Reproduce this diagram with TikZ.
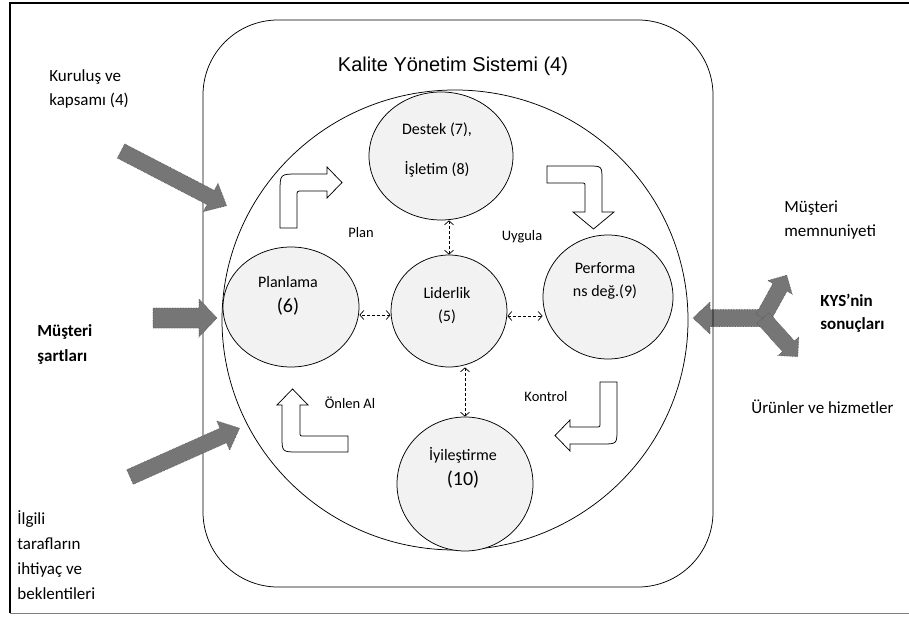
\documentclass[tikz,border=0pt]{standalone}
\usepackage{fontspec}
\setmainfont{Carlito}
\newfontfamily\arialfont{Liberation Sans}
\usetikzlibrary{arrows.meta,shapes.geometric}

\tikzset{every picture/.style={line width=0.75pt}}
\tikzset{
  bubble/.style={ellipse, draw, fill={rgb,255:red,242;green,242;blue,242}, inner sep=0pt},
  bubtext/.style={align=center, inner sep=0pt, font=\fontsize{16}{23}\selectfont},
  sidetext/.style={align=left, anchor=west, inner sep=0pt, font=\fontsize{17}{24}\selectfont},
  looptext/.style={inner sep=0pt, font=\fontsize{14.5}{16}\selectfont},
  hollow/.style={draw, fill=white},
  grayarrow/.style={fill={rgb,255:red,118;green,118;blue,118}, draw={rgb,255:red,85;green,85;blue,85}, densely dotted, line width=0.6pt},
  linkarrow/.style={densely dashed, {Straight Barb[length=4pt,width=9pt]}-{Straight Barb[length=4pt,width=9pt]}, line width=0.7pt}
}
\newcommand{\fatarrow}[6]{%
  \begin{scope}[shift={#1}, rotate=#2]
    \draw[grayarrow] (0,-#4) -- ({#3-#6},-#4) -- ({#3-#6},-#5) -- (#3,0) -- ({#3-#6},#5) -- ({#3-#6},#4) -- (0,#4) -- cycle;
  \end{scope}}

\begin{document}
\begin{tikzpicture}[x=1pt,y=-1pt]
    \useasboundingbox (0,0) rectangle (909,617);
    \draw[line width=1.2pt] (909,3) -- (10,3) -- (10,613);
    \draw[gray, line width=1pt] (10,613) -- (909,613);

    % results on the right
    \fatarrow{(763,318)}{180}{70}{8.5}{16}{17}
    \draw[rounded corners=75pt] (203,20) rectangle (713,587);
    \draw (455,320) ellipse [x radius=233pt, y radius=230pt];
    \node[font=\arialfont\fontsize{20}{22}\selectfont] (kys title) at (453,66) {Kalite Yönetim Sistemi (4)};

    \node[bubble, minimum width=144pt, minimum height=128pt] (destek) at (441,156) {};
    \node[bubble, minimum width=136pt, minimum height=120pt] (plan) at (291,307) {};
    \node[bubble, minimum width=116pt, minimum height=112pt] (lider) at (449,311) {};
    \node[bubble, minimum width=130pt, minimum height=124pt] (perf) at (608,297) {};
    \node[bubble, minimum width=136pt, minimum height=134pt] (iyi) at (465,484) {};

    \node[bubtext] (destek text) at (437,150) {Destek (7),\\[17pt]İşletim (8)};
    \node[bubtext] (plan text) at (288,296) {Planlama\\[2pt]{\fontsize{20}{20}\selectfont(6)}};
    \node[bubtext] (lider text) at (447,306) {Liderlik\\(5)};
    \node[bubtext] (perf text) at (605,281) {Performa\\ns değ.(9)};
    \node[bubtext] (iyi text) at (463,468) {İyileştirme\\[2pt]{\fontsize{20}{20}\selectfont(10)}};

    \draw[linkarrow] (lider.north) -- (lider.north |- destek.south);
    \draw[linkarrow] ([yshift=-4pt]lider.west) -- ([yshift=-4pt]lider.west -| plan.east);
    \draw[linkarrow] ([yshift=-5pt]lider.east) -- ([yshift=-5pt]lider.east -| perf.west);
    \draw[linkarrow] (iyi.north) -- (iyi.north |- lider.south);

    % PUKO loop
    \draw[hollow] (280,228) -- (280,192) .. controls (280,174) .. (298,174) -- (327,174) -- (327,167) -- (342,182.5) -- (327,198) -- (327,191) -- (302,191) .. controls (297,191) .. (297,196) -- (297,228) -- cycle;
    \draw[hollow] (547,166) -- (588,166) .. controls (602,166) .. (602,180) -- (602,212) -- (614,212) -- (593.5,229) -- (573,212) -- (585,212) -- (585,187) .. controls (585,183) .. (581,183) -- (547,183) -- cycle;
    \draw[hollow] (600,382) -- (617,382) -- (617,429) .. controls (617,444) .. (602,444) -- (570,444) -- (570,451) -- (555,435.5) -- (570,420) -- (570,427) -- (596,427) .. controls (600,427) .. (600,423) -- cycle;
    \draw[hollow] (348,452) -- (298,452) .. controls (282,452) .. (282,436) -- (282,405) -- (277,405) -- (292.5,389) -- (308,405) -- (300,405) -- (300,432) .. controls (300,436) .. (304,436) -- (348,436) -- cycle;

    \node[looptext] (plan label) at (361,233) {Plan};
    \node[looptext] (uygula label) at (522,237) {Uygula};
    \node[looptext] (onlem label) at (350,403) {Önlen Al};
    \node[looptext] (kontrol label) at (546,397) {Kontrol};

    % inputs
    \fatarrow{(121,151)}{-27.4}{119}{8}{16}{18}
    \fatarrow{(153,318)}{0}{64}{10}{19}{18}
    \fatarrow{(130,477)}{24}{120}{8}{16}{18}
    \fatarrow{(763,318)}{61}{49}{8}{14}{14}
    \fatarrow{(763,318)}{-48}{52}{8}{14}{14}

    \node[sidetext] (kurulus) at (49,88.5) {Kuruluş ve\\kapsamı (4)};
    \node[sidetext, font=\bfseries\fontsize{17}{25}\selectfont] (sartlar) at (37,344) {Müşteri\\şartları};
    \node[sidetext, font=\fontsize{17}{25}\selectfont] (ilgili) at (17,555) {İlgili\\tarafların\\ihtiyaç ve\\beklentileri};
    \node[sidetext] (memnun) at (784,220) {Müşteri\\memnuniyeti};
    \node[sidetext, font=\bfseries\fontsize{17}{23}\selectfont] (kys) at (820,313.5) {KYS’nin\\sonuçları};
    \node[sidetext] (urun) at (751,407) {Ürünler ve hizmetler};
\end{tikzpicture}
\end{document}
